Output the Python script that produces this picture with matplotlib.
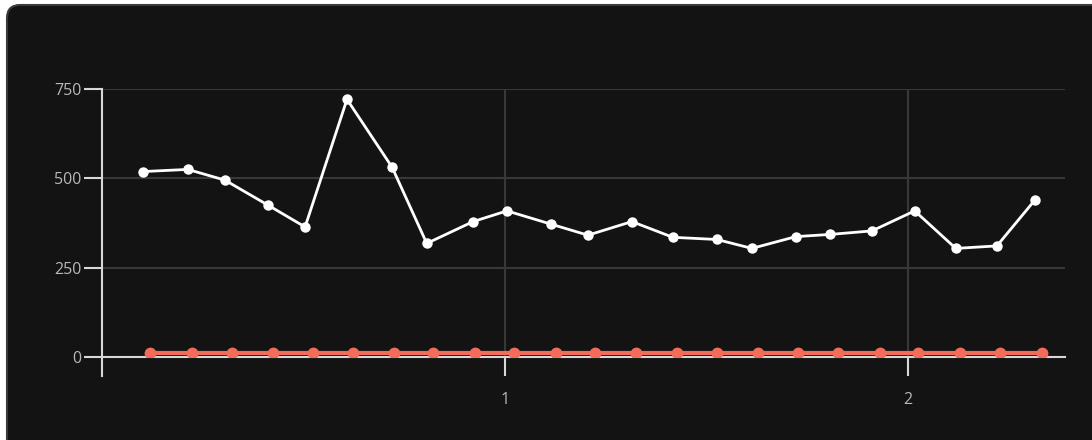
import matplotlib.pyplot as plt
from matplotlib.patches import FancyBboxPatch

# white series (irregular x positions)
white_x = [0.102, 0.213, 0.305, 0.412, 0.504, 0.608, 0.720, 0.806, 0.921, 1.005,
           1.114, 1.206, 1.315, 1.417, 1.526, 1.613, 1.722, 1.806, 1.911, 2.017,
           2.119, 2.221, 2.315]
white_y = [519, 525, 495, 425, 364, 721, 531, 318, 379, 409,
           372, 341, 379, 335, 329, 304, 337, 343, 353, 409,
           304, 311, 439]

# red series, sitting just above zero
red_x = [0.119, 0.223, 0.323, 0.424, 0.524, 0.623, 0.725, 0.821, 0.926, 1.022,
         1.127, 1.223, 1.325, 1.427, 1.526, 1.628, 1.727, 1.826, 1.931, 2.025,
         2.129, 2.228, 2.333]
red_y = [10, 10, 10, 10, 10, 10, 10, 10, 10, 10,
         10, 10, 10, 10, 10, 10, 10, 10, 10, 10,
         10, 10, 10]

y_ticks = [0, 250, 500, 750]
x_ticks = [1, 2]

W, H = 1092, 440
fig = plt.figure(figsize=(W / 100, H / 100), dpi=100, facecolor='white')

# dark rounded panel, runs off the right and bottom edges
panel = FancyBboxPatch((7 / W, -0.2), 1.2, (H - 5) / H + 0.2,
                       boxstyle='round,pad=0,rounding_size=0.012',
                       transform=fig.transFigure, facecolor='#131313',
                       edgecolor='#3a3a3a', linewidth=1.5, mutation_aspect=W / H,
                       zorder=-10)
fig.patches.append(panel)

ax = fig.add_axes([102 / W, (H - 376) / H, (1065 - 102) / W, (376 - 89) / H])
ax.set_facecolor('none')
ax.set_xlim(0, 2.39)
ax.set_ylim(-53, 750)

ax.grid(True, color='#383838', linewidth=1.5)
ax.set_axisbelow(True)
ax.set_xticks(x_ticks)
ax.set_yticks(y_ticks)

for s in ['top', 'right']:
    ax.spines[s].set_visible(False)
ax.spines['bottom'].set_position(('data', 0))
for s in ['left', 'bottom']:
    ax.spines[s].set_color('#d8d8d8')
    ax.spines[s].set_linewidth(1.5)

ax.tick_params(colors='#d8d8d8', width=1.5, labelsize=11.5, labelcolor='#b8b8b8')
ax.tick_params(axis='x', length=14, pad=11)
ax.tick_params(axis='y', length=13, pad=1.5)
for lab in ax.get_xticklabels() + ax.get_yticklabels():
    lab.set_family('Open Sans')

# red series on an overlay axes that starts at zero, so its markers are cut at the baseline
ax_red = fig.add_axes([102 / W, (H - 357) / H, (1065 - 102) / W, (357 - 89) / H])
ax_red.set_xlim(0, 2.39)
ax_red.set_ylim(0, 750)
ax_red.axis('off')
ax_red.plot(red_x, red_y, color='#f26b5b', linewidth=3, marker='o',
            markersize=8.5, markeredgewidth=0)

ax_w = fig.add_axes(ax.get_position(), sharex=ax, sharey=ax)
ax_w.axis('off')
ax_w.plot(white_x, white_y, color='white', linewidth=2, marker='o',
          markersize=7.5, markeredgewidth=0)

fig.savefig('out.png', dpi=100, facecolor=fig.get_facecolor())
